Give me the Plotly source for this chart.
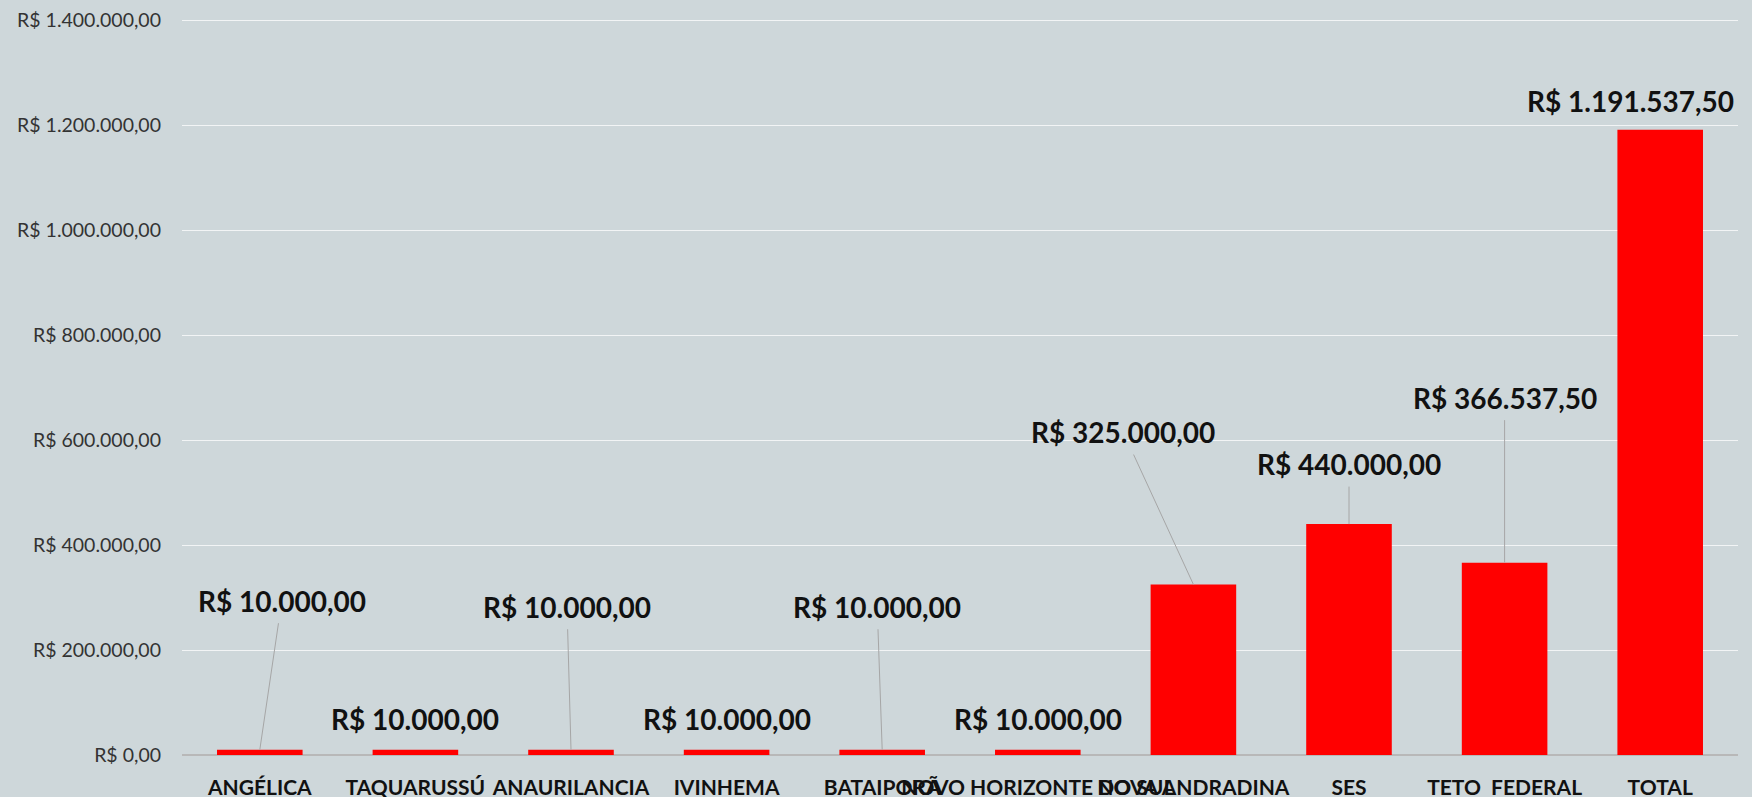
import plotly.graph_objects as go

categories = ["ANGÉLICA", "TAQUARUSSÚ", "ANAURILANCIA", "IVINHEMA", "BATAIPORÃ",
              "NOVO HORIZONTE DO SUL", "NOVA ANDRADINA", "SES", "TETO  FEDERAL", "TOTAL"]
values = [10000, 10000, 10000, 10000, 10000, 10000, 325000, 440000, 366537.50, 1191537.50]
value_labels = ["R$ 10.000,00", "R$ 10.000,00", "R$ 10.000,00", "R$ 10.000,00", "R$ 10.000,00",
                "R$ 10.000,00", "R$ 325.000,00", "R$ 440.000,00", "R$ 366.537,50", "R$ 1.191.537,50"]
y_tickvals = [0, 200000, 400000, 600000, 800000, 1000000, 1200000, 1400000]
y_ticktext = ["R$ 0,00", "R$ 200.000,00", "R$ 400.000,00", "R$ 600.000,00", "R$ 800.000,00",
              "R$ 1.000.000,00", "R$ 1.200.000,00", "R$ 1.400.000,00"]

# label placement (pixel offsets from the bar top) and whether a leader line is drawn
label_dx = [22, 0, -4, 0, -5, 0, -70, 0, 0, -30]
label_dy = [-149, -31, -143, -31, -143, -31, -152, -60, -165, -29]
leader = [True, False, True, False, True, False, True, True, True, False]

BG = "#CED7DA"
FONT = "Lato"

fig = go.Figure()
fig.add_trace(go.Bar(
    x=list(range(len(categories))), y=values,
    marker=dict(color="#FF0000", line=dict(width=0)),
    width=0.55, hoverinfo="skip",
))

annotations = []
for i, (v, t) in enumerate(zip(values, value_labels)):
    if leader[i]:
        annotations.append(dict(
            x=i, y=v, xref="x", yref="y", text="<b>" + t + "</b>",
            showarrow=True, arrowhead=0, arrowwidth=1, arrowcolor="#A6A6A6",
            ax=label_dx[i], ay=label_dy[i], standoff=0, startstandoff=4,
            font=dict(family=FONT, size=28, color="#111111"),
        ))
    else:
        annotations.append(dict(
            x=i, y=v, xref="x", yref="y", text="<b>" + t + "</b>",
            showarrow=False, xshift=label_dx[i], yshift=-label_dy[i],
            yanchor="middle", xanchor="center",
            font=dict(family=FONT, size=28, color="#111111"),
        ))

fig.update_layout(
    width=1752, height=797,
    margin=dict(l=182, r=14, t=15, b=42),
    paper_bgcolor=BG, plot_bgcolor=BG,
    showlegend=False,
    bargap=0.45,
    annotations=annotations,
    xaxis=dict(
        tickmode="array", tickvals=list(range(len(categories))), ticktext=["<b>" + c + "</b>" for c in categories],
        range=[-0.5, len(categories) - 0.5],
        tickfont=dict(family=FONT, size=21, color="#111111"),
        showgrid=False, zeroline=False, showline=False, ticks="", automargin=False,
        ticklabelstandoff=18, tickangle=0,
    ),
    yaxis=dict(
        range=[0, 1410000], tickmode="array", tickvals=y_tickvals, ticktext=y_ticktext,
        tickfont=dict(family=FONT, size=19.5, color="#333333"),
        showgrid=True, gridcolor="#F2F4F5", gridwidth=1,
        zeroline=True, zerolinecolor="#B8B8B8", zerolinewidth=2,
        showline=False, ticks="", automargin=False, ticklabelstandoff=20,
    ),
)

fig.write_html("out.html", config={"displayModeBar": False},
               post_script="document.body.style.margin='0';document.body.style.overflow='hidden';")
